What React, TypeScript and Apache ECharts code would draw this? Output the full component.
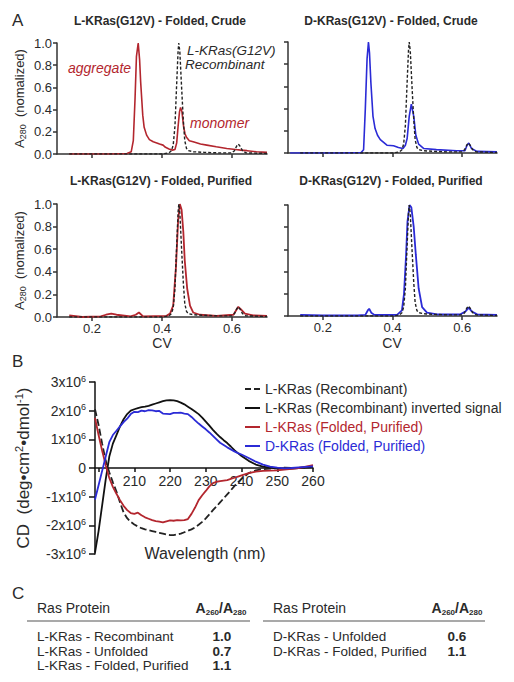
import React, { useEffect, useRef } from 'react';
import * as echarts from 'echarts';

// ---------- Panel A data (CV vs normalized A280) ----------
const cvTicks = [0.2, 0.4, 0.6];

// Recombinant L-KRas(G12V) reference trace (dashed)
const recCV = [0.135, 0.3, 0.4, 0.42, 0.427, 0.432, 0.437, 0.4415, 0.446, 0.448, 0.451, 0.456, 0.461, 0.465, 0.47, 0.475, 0.49, 0.52, 0.56, 0.6, 0.607, 0.613, 0.618, 0.623, 0.63, 0.64, 0.7];
const recA = [0, 0, 0, 0.01, 0.03, 0.08, 0.25, 0.6, 0.93, 1.0, 0.92, 0.6, 0.3, 0.12, 0.05, 0.03, 0.02, 0.015, 0.01, 0.01, 0.03, 0.07, 0.09, 0.07, 0.03, 0.01, 0.005];

// L-KRas(G12V) folded, crude (red)
const lCrudeCV = [0.135, 0.25, 0.3, 0.312, 0.318, 0.323, 0.327, 0.332, 0.336, 0.339, 0.342, 0.345, 0.349, 0.356, 0.364, 0.375, 0.385, 0.393, 0.403, 0.41, 0.42, 0.43, 0.437, 0.442, 0.446, 0.45, 0.453, 0.457, 0.462, 0.466, 0.47, 0.478, 0.489, 0.51, 0.528, 0.555, 0.585, 0.61, 0.625, 0.643, 0.67, 0.7];
const lCrudeA = [0, 0, 0.005, 0.02, 0.12, 0.5, 0.88, 1.0, 0.85, 0.65, 0.5, 0.35, 0.24, 0.17, 0.13, 0.11, 0.1, 0.09, 0.08, 0.06, 0.045, 0.035, 0.04, 0.1, 0.25, 0.38, 0.42, 0.38, 0.24, 0.18, 0.15, 0.12, 0.11, 0.09, 0.08, 0.065, 0.05, 0.04, 0.035, 0.03, 0.02, 0.015];

// D-KRas(G12V) folded, crude (blue)
const dCrudeCV = [0.106, 0.25, 0.31, 0.317, 0.322, 0.327, 0.331, 0.334, 0.338, 0.344, 0.35, 0.357, 0.365, 0.384, 0.403, 0.417, 0.43, 0.437, 0.442, 0.448, 0.454, 0.461, 0.467, 0.475, 0.49, 0.526, 0.584, 0.608, 0.614, 0.619, 0.627, 0.642, 0.7];
const dCrudeA = [0, 0, 0.005, 0.03, 0.4, 0.85, 1.0, 0.9, 0.63, 0.33, 0.22, 0.16, 0.12, 0.07, 0.065, 0.05, 0.04, 0.07, 0.13, 0.33, 0.44, 0.33, 0.16, 0.08, 0.04, 0.03, 0.02, 0.02, 0.07, 0.09, 0.04, 0.015, 0.01];

// L-KRas(G12V) folded, purified (red)
const lPurCV = [0.135, 0.172, 0.225, 0.24, 0.255, 0.27, 0.31, 0.325, 0.334, 0.346, 0.413, 0.423, 0.432, 0.44, 0.446, 0.451, 0.456, 0.461, 0.465, 0.472, 0.48, 0.489, 0.508, 0.556, 0.604, 0.612, 0.618, 0.625, 0.637, 0.66, 0.7];
const lPurA = [0.015, 0, 0.005, 0.02, 0.03, 0.02, 0.005, 0.02, 0.04, 0.005, 0.01, 0.03, 0.1, 0.45, 0.85, 1.0, 0.95, 0.75, 0.5, 0.25, 0.1, 0.04, 0.02, 0.01, 0.02, 0.06, 0.09, 0.07, 0.03, 0.015, 0.01];

// D-KRas(G12V) folded, purified (blue)
const dPurCV = [0.135, 0.2, 0.3, 0.322, 0.329, 0.333, 0.339, 0.348, 0.413, 0.427, 0.433, 0.439, 0.443, 0.449, 0.454, 0.461, 0.467, 0.475, 0.485, 0.499, 0.528, 0.595, 0.609, 0.619, 0.628, 0.643, 0.7];
const dPurA = [0.01, 0.005, 0.005, 0.01, 0.05, 0.065, 0.03, 0.01, 0.01, 0.05, 0.2, 0.55, 0.85, 1.0, 0.98, 0.8, 0.55, 0.25, 0.08, 0.03, 0.015, 0.015, 0.04, 0.075, 0.04, 0.015, 0.01];

// ---------- Panel B data (CD, units of 10^6 deg·cm²·dmol⁻¹) ----------
const wavelength = [199, 200, 201, 202, 203, 204, 205, 206, 207, 208, 209, 210, 211, 212, 213, 214, 215, 216, 217, 218, 219, 220, 221, 222, 223, 224, 225, 226, 227, 228, 229, 230, 231, 232, 233, 234, 235, 236, 237, 238, 239, 240, 242, 244, 246, 248, 250, 252, 254, 256, 258, 260];
const cdRecombinant = [2.05, 1.5, 0.85, 0.25, -0.15, -0.5, -0.82, -1.2, -1.55, -1.75, -1.88, -1.97, -2.04, -2.1, -2.14, -2.17, -2.2, -2.23, -2.26, -2.29, -2.32, -2.34, -2.34, -2.32, -2.29, -2.24, -2.19, -2.14, -2.07, -1.98, -1.88, -1.76, -1.62, -1.47, -1.34, -1.2, -1.06, -0.92, -0.78, -0.63, -0.5, -0.38, -0.18, -0.08, -0.04, -0.02, 0, 0.01, 0, 0, 0.02, 0.03];
const cdInverted = [-2.95, -2.2, -1.3, -0.4, 0.4, 0.85, 1.15, 1.45, 1.7, 1.88, 2.0, 2.05, 2.09, 2.12, 2.14, 2.17, 2.21, 2.25, 2.29, 2.33, 2.36, 2.37, 2.36, 2.33, 2.28, 2.22, 2.14, 2.06, 1.97, 1.88, 1.76, 1.62, 1.48, 1.33, 1.2, 1.08, 0.97, 0.87, 0.75, 0.62, 0.52, 0.42, 0.25, 0.12, 0.05, 0.01, -0.02, -0.03, -0.02, 0, 0.02, 0.04];
const cdLFolded = [1.75, 1.15, 0.6, 0.1, -0.35, -0.66, -0.9, -1.12, -1.32, -1.47, -1.57, -1.6, -1.56, -1.65, -1.72, -1.77, -1.82, -1.85, -1.87, -1.9, -1.86, -1.83, -1.84, -1.82, -1.83, -1.82, -1.78, -1.6, -1.38, -1.12, -0.95, -0.8, -0.64, -0.53, -0.48, -0.46, -0.44, -0.42, -0.38, -0.34, -0.3, -0.26, -0.18, -0.13, -0.1, -0.09, -0.08, -0.06, -0.03, 0, 0.05, 0.1];
const cdDFolded = [-1.1, -0.6, -0.1, 0.4, 0.9, 1.15, 1.3, 1.45, 1.6, 1.72, 1.88, 1.96, 1.95, 2.0, 1.98, 2.02, 2.01, 1.98, 1.99, 1.9, 1.89, 1.88, 1.92, 1.92, 1.93, 1.9, 1.88, 1.78, 1.66, 1.55, 1.45, 1.35, 1.24, 1.12, 1.0, 0.88, 0.8, 0.72, 0.65, 0.58, 0.52, 0.47, 0.35, 0.22, 0.12, 0.05, 0.01, -0.01, 0, 0.02, 0.04, 0.06];
const wlTicks = [200, 210, 220, 230, 240, 250, 260];
const wlLabels = [210, 220, 230, 240, 250, 260];
const legendNames = ['L-KRas (Recombinant)', 'L-KRas (Recombinant) inverted signal', 'L-KRas (Folded, Purified)', 'D-KRas (Folded, Purified)'];

// ---------- Panel C data ----------
const tableLeftNames = ['L-KRas - Recombinant', 'L-KRas - Unfolded', 'L-KRas - Folded, Purified'];
const tableLeftValues = ['1.0', '0.7', '1.1'];
const tableRightNames = ['D-KRas - Unfolded', 'D-KRas - Folded, Purified'];
const tableRightValues = ['0.6', '1.1'];

const FF = '"Liberation Sans", Arial, Helvetica, sans-serif';
const RED = '#b3262e';
const BLUE = '#2b2bd6';
const DARK = '#2a2a2a';
const AX = '#333333';

const zip = (xs: number[], ys: number[]) => xs.map((x, i) => [x, ys[i]]);

function buildOption(): any {
  const grids = [
    { left: 57, top: 43, width: 210, height: 111 },
    { left: 288, top: 42, width: 209, height: 111 },
    { left: 57, top: 204, width: 210, height: 113 },
    { left: 288, top: 205, width: 209, height: 111 },
    { left: 95, top: 382, width: 218, height: 172 },
  ].map((g) => ({ ...g, containLabel: false, outerBoundsMode: 'none' }));

  const aXAxis = (gi: number, labels: boolean) => ({
    type: 'value', gridIndex: gi, min: 0.1, max: 0.7,
    axisLine: { show: true, onZero: false, lineStyle: { color: AX, width: 1.5 } },
    axisTick: { show: true, length: 4, customValues: cvTicks, lineStyle: { color: AX, width: 1.5 } },
    axisLabel: { show: labels, customValues: cvTicks, formatter: (v: number) => v.toFixed(1), margin: 5, fontSize: 13, color: DARK, fontFamily: FF },
    splitLine: { show: false },
  });
  const yName = {
    name: '{a|A}{s|280}{a|  (nomalized)}',
    nameLocation: 'middle', nameRotate: 90, nameGap: 30,
    nameTextStyle: {
      color: DARK, fontFamily: FF, fontSize: 13,
      rich: {
        a: { fontSize: 13, lineHeight: 16, color: DARK, fontFamily: FF },
        s: { fontSize: 9, lineHeight: 9, verticalAlign: 'bottom', color: DARK, fontFamily: FF },
      },
    },
  };
  const aYAxis = (gi: number, labels: boolean) => ({
    type: 'value', gridIndex: gi, min: 0, max: 1, interval: 0.2,
    axisLine: { show: true, onZero: false, lineStyle: { color: AX, width: 1.5 } },
    axisTick: { show: true, length: 4, lineStyle: { color: AX, width: 1.5 } },
    axisLabel: { show: labels, formatter: (v: number) => v.toFixed(1), margin: 5, fontSize: 13, color: DARK, fontFamily: FF },
    splitLine: { show: false },
    ...(labels ? yName : {}),
  });

  const xAxis = [
    aXAxis(0, false), aXAxis(1, false), aXAxis(2, true), aXAxis(3, true),
    {
      type: 'value', gridIndex: 4, min: 199, max: 260,
      position: 'bottom', offset: -86,
      axisLine: { show: true, onZero: false, lineStyle: { color: '#111', width: 1.5 } },
      axisTick: { show: true, length: 4, customValues: wlTicks, lineStyle: { color: '#111', width: 1.5 } },
      axisLabel: { customValues: wlLabels, margin: 6, fontSize: 14, color: DARK, fontFamily: FF },
      splitLine: { show: false },
    },
  ];

  const supRich = {
    n: { fontSize: 14, lineHeight: 16, color: DARK, fontFamily: FF },
    s: { fontSize: 9, lineHeight: 9, verticalAlign: 'top', color: DARK, fontFamily: FF },
  };
  const yAxis = [
    aYAxis(0, true), aYAxis(1, false), aYAxis(2, true), aYAxis(3, false),
    {
      type: 'value', gridIndex: 4, min: -3, max: 3, interval: 1,
      axisLine: { show: true, onZero: false, lineStyle: { color: '#111', width: 1.5 } },
      axisTick: { show: true, length: 6, lineStyle: { color: '#111', width: 1.5 } },
      axisLabel: {
        margin: 9, fontSize: 14, color: DARK, fontFamily: FF,
        formatter: (v: number) => (v === 0 ? '{n|0}' : `{n|${v}x10}{s|6}`),
        rich: supRich,
      },
      splitLine: { show: false },
      name: '{c|CD  (deg•cm}{s|2}{c|•dmol}{s|-1}{c|)}',
      nameLocation: 'middle', nameRotate: 90, nameGap: 62,
      nameTextStyle: {
        color: DARK, fontFamily: FF, fontSize: 17,
        rich: {
          c: { fontSize: 17, lineHeight: 20, color: DARK, fontFamily: FF },
          s: { fontSize: 11, lineHeight: 11, verticalAlign: 'top', color: DARK, fontFamily: FF },
        },
      },
    },
  ];

  const line = (name: string, gi: number, data: number[][], color: string, width: number, dash?: any, z = 2) => ({
    type: 'line', name, xAxisIndex: gi, yAxisIndex: gi, data, symbol: 'none', showSymbol: false,
    smooth: false, silent: true, z,
    lineStyle: { color, width, type: dash || 'solid' },
    itemStyle: { color },
  });

  const series = [
    line('L crude', 0, zip(lCrudeCV, lCrudeA), RED, 1.6),
    line('rec 0', 0, zip(recCV, recA), '#222', 1.4, [3, 2], 3),
    line('D crude', 1, zip(dCrudeCV, dCrudeA), BLUE, 1.6),
    line('rec 1', 1, zip(recCV, recA), '#222', 1.4, [3, 2], 3),
    line('L purified', 2, zip(lPurCV, lPurA), RED, 1.8),
    line('rec 2', 2, zip(recCV, recA), '#222', 1.4, [3, 2], 3),
    line('D purified', 3, zip(dPurCV, dPurA), BLUE, 1.8),
    line('rec 3', 3, zip(recCV, recA), '#222', 1.4, [3, 2], 3),
    line(legendNames[0], 4, zip(wavelength, cdRecombinant), '#222', 1.8, [7, 3]),
    line(legendNames[1], 4, zip(wavelength, cdInverted), '#111', 1.8),
    line(legendNames[2], 4, zip(wavelength, cdLFolded), RED, 1.8),
    line(legendNames[3], 4, zip(wavelength, cdDFolded), BLUE, 1.8),
  ];

  const legendColors = [DARK, DARK, RED, BLUE];
  const legendIcons = ['path://M0 0H6V2H0Z M9 0H15V2H9Z', 'rect', 'rect', 'rect'];
  const legend = {
    orient: 'vertical', left: 240, top: 377, itemWidth: 15, itemHeight: 2, itemGap: 5,
    selectedMode: false,
    textStyle: { fontSize: 14, lineHeight: 14, fontFamily: FF, color: DARK },
    data: legendNames.map((n, i) => ({ name: n, icon: legendIcons[i], textStyle: { color: legendColors[i] } })),
  };

  const txt = (x: number, y: number, text: string, opts: any = {}) => ({
    type: 'text', x, y, silent: true,
    style: {
      text, fill: opts.fill || DARK, fontSize: opts.fontSize || 14, fontFamily: FF,
      fontWeight: opts.fontWeight || 'normal', fontStyle: opts.fontStyle || 'normal',
      align: opts.align || 'left', verticalAlign: 'middle', rich: opts.rich, lineHeight: opts.lineHeight,
    },
  });

  const headerRich = {
    b: { fontSize: 14, fontWeight: 'bold', fill: DARK, fontFamily: FF, lineHeight: 16 },
    s: { fontSize: 8, fontWeight: 'bold', fill: DARK, fontFamily: FF, lineHeight: 8, verticalAlign: 'bottom' },
  };
  const headerText = '{b|A}{s|260}{b|/A}{s|280}';
  const rowY = [636.5, 651, 665.5];
  const rowFont = 13.5;

  const graphic: any[] = [
    txt(12, 20, 'A', { fontSize: 17 }),
    txt(160, 21, 'L-KRas(G12V) - Folded, Crude', { fontSize: 12, fontWeight: 'bold', align: 'center' }),
    txt(391, 21, 'D-KRas(G12V) - Folded, Crude', { fontSize: 12, fontWeight: 'bold', align: 'center' }),
    txt(161, 181, 'L-KRas(G12V) - Folded, Purified', { fontSize: 12, fontWeight: 'bold', align: 'center' }),
    txt(391, 181, 'D-KRas(G12V) - Folded, Purified', { fontSize: 12, fontWeight: 'bold', align: 'center' }),
    txt(68, 68, 'aggregate', { fontSize: 14, fontStyle: 'italic', fill: RED }),
    txt(190, 123, 'monomer', { fontSize: 14, fontStyle: 'italic', fill: RED }),
    txt(187, 50.5, 'L-KRas(G12V)', { fontSize: 13.5, fontStyle: 'italic' }),
    txt(185, 64.5, 'Recombinant', { fontSize: 13.5, fontStyle: 'italic' }),
    txt(162, 343, 'CV', { fontSize: 14, align: 'center' }),
    txt(392, 343, 'CV', { fontSize: 14, align: 'center' }),
    txt(12, 361, 'B', { fontSize: 17 }),
    txt(205, 553, 'Wavelength (nm)', { fontSize: 16, align: 'center' }),
    txt(12, 593, 'C', { fontSize: 17 }),
    txt(37, 608, 'Ras Protein', { fontSize: 14 }),
    txt(221, 608, headerText, { align: 'center', rich: headerRich }),
    txt(273, 608, 'Ras Protein', { fontSize: 14 }),
    txt(457, 608, headerText, { align: 'center', rich: headerRich }),
    { type: 'line', silent: true, shape: { x1: 27, y1: 621, x2: 250, y2: 621 }, style: { stroke: '#555', lineWidth: 1.2 } },
    { type: 'line', silent: true, shape: { x1: 263, y1: 621, x2: 485, y2: 621 }, style: { stroke: '#555', lineWidth: 1.2 } },
  ];
  tableLeftNames.forEach((n, i) => {
    graphic.push(txt(37, rowY[i], n, { fontSize: rowFont }));
    graphic.push(txt(222, rowY[i], tableLeftValues[i], { fontSize: rowFont, fontWeight: 'bold', align: 'center' }));
  });
  tableRightNames.forEach((n, i) => {
    graphic.push(txt(273, rowY[i], n, { fontSize: rowFont }));
    graphic.push(txt(457, rowY[i], tableRightValues[i], { fontSize: rowFont, fontWeight: 'bold', align: 'center' }));
  });

  return {
    animation: false,
    backgroundColor: '#ffffff',
    textStyle: { fontFamily: FF },
    grid: grids,
    xAxis,
    yAxis,
    legend,
    series,
    graphic: { elements: graphic },
  };
}

export default function App() {
  const ref = useRef<HTMLDivElement>(null);
  useEffect(() => {
    if (!ref.current) return;
    const chart = echarts.init(ref.current, null, { renderer: 'svg' });
    chart.setOption(buildOption());
    return () => chart.dispose();
  }, []);
  return <div ref={ref} style={{ position: 'absolute', left: 0, top: 0, width: 514, height: 682 }} />;
}
